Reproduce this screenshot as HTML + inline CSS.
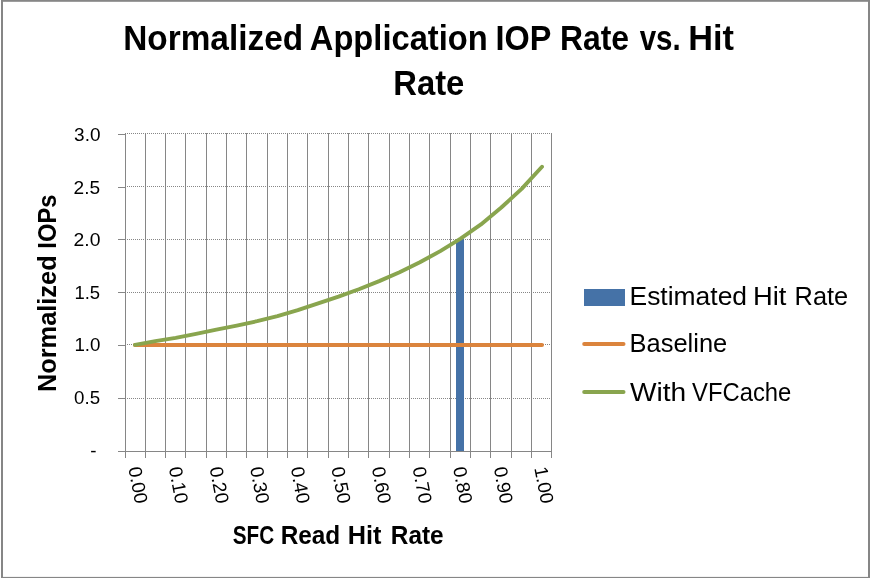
<!DOCTYPE html>
<html lang="en"><head><meta charset="utf-8"><title>Normalized Application IOP Rate vs. Hit Rate</title>
<style>html,body{margin:0;padding:0;background:#fff;}svg{display:block;}text{font-family:"Liberation Sans",sans-serif;fill:#000;}</style>
</head><body>
<svg width="870" height="578" viewBox="0 0 870 578">
<rect x="0" y="0" width="870" height="578" fill="#fff"/>
<g fill="#868686"><rect x="1" y="0" width="869" height="1.8"/><rect x="1" y="0" width="2" height="578"/><rect x="868" y="0" width="2" height="578"/><rect x="1" y="576.9" width="869" height="1.1"/></g>
<g shape-rendering="crispEdges" stroke="#868686" stroke-width="1" fill="none">
<line x1="127" y1="398.5" x2="551" y2="398.5" stroke-dasharray="1 1"/>
<line x1="127" y1="344.5" x2="551" y2="344.5" stroke-dasharray="1 1"/>
<line x1="127" y1="292.5" x2="551" y2="292.5" stroke-dasharray="1 1"/>
<line x1="127" y1="239.5" x2="551" y2="239.5" stroke-dasharray="1 1"/>
<line x1="127" y1="186.5" x2="551" y2="186.5" stroke-dasharray="1 1"/>
<line x1="127" y1="133.5" x2="551" y2="133.5" stroke-dasharray="1 1"/>
<line x1="125.5" y1="133" x2="125.5" y2="458"/>
<line x1="145.5" y1="133" x2="145.5" y2="458"/>
<line x1="165.5" y1="133" x2="165.5" y2="458"/>
<line x1="185.5" y1="133" x2="185.5" y2="458"/>
<line x1="206.5" y1="133" x2="206.5" y2="458"/>
<line x1="226.5" y1="133" x2="226.5" y2="458"/>
<line x1="246.5" y1="133" x2="246.5" y2="458"/>
<line x1="267.5" y1="133" x2="267.5" y2="458"/>
<line x1="287.5" y1="133" x2="287.5" y2="458"/>
<line x1="307.5" y1="133" x2="307.5" y2="458"/>
<line x1="328.5" y1="133" x2="328.5" y2="458"/>
<line x1="348.5" y1="133" x2="348.5" y2="458"/>
<line x1="368.5" y1="133" x2="368.5" y2="458"/>
<line x1="389.5" y1="133" x2="389.5" y2="458"/>
<line x1="409.5" y1="133" x2="409.5" y2="458"/>
<line x1="429.5" y1="133" x2="429.5" y2="458"/>
<line x1="450.5" y1="133" x2="450.5" y2="458"/>
<line x1="470.5" y1="133" x2="470.5" y2="458"/>
<line x1="490.5" y1="133" x2="490.5" y2="458"/>
<line x1="511.5" y1="133" x2="511.5" y2="458"/>
<line x1="531.5" y1="133" x2="531.5" y2="458"/>
<line x1="551.5" y1="133" x2="551.5" y2="458"/>
<line x1="118" y1="451.5" x2="552" y2="451.5"/>
<line x1="118" y1="398.5" x2="125" y2="398.5"/>
<line x1="118" y1="345.5" x2="125" y2="345.5"/>
<line x1="118" y1="292.5" x2="125" y2="292.5"/>
<line x1="118" y1="239.5" x2="125" y2="239.5"/>
<line x1="118" y1="187.5" x2="125" y2="187.5"/>
<line x1="118" y1="134.5" x2="125" y2="134.5"/>
</g>
<rect x="456" y="239" width="8" height="212" fill="#4572A7"/>
<line x1="135.00" y1="345" x2="542.00" y2="345" stroke="#DB843D" stroke-width="4" stroke-linecap="round"/>
<polyline points="135.00,344.90 155.35,341.17 175.70,337.81 196.05,333.90 216.40,329.71 236.75,325.61 257.10,321.17 277.45,316.04 297.80,310.17 318.15,303.30 338.50,296.58 358.85,289.22 379.20,281.12 399.55,272.17 419.90,262.22 440.25,251.11 460.60,238.60 480.95,224.43 501.30,207.53 521.65,188.84 542.00,166.73" fill="none" stroke="#89A54E" stroke-width="3.9" stroke-linecap="round" stroke-linejoin="round"/>
<text x="93.3" y="456.70" font-size="18.8" text-anchor="middle">-</text>
<text transform="translate(128.25,467.9) rotate(79.3)" font-size="18.8" textLength="37.2" lengthAdjust="spacingAndGlyphs">0.00</text>
<text transform="translate(168.85,467.9) rotate(79.3)" font-size="18.8" textLength="37.2" lengthAdjust="spacingAndGlyphs">0.10</text>
<text transform="translate(209.45,467.9) rotate(79.3)" font-size="18.8" textLength="37.2" lengthAdjust="spacingAndGlyphs">0.20</text>
<text transform="translate(250.05,467.9) rotate(79.3)" font-size="18.8" textLength="37.2" lengthAdjust="spacingAndGlyphs">0.30</text>
<text transform="translate(290.65,467.9) rotate(79.3)" font-size="18.8" textLength="37.2" lengthAdjust="spacingAndGlyphs">0.40</text>
<text transform="translate(331.25,467.9) rotate(79.3)" font-size="18.8" textLength="37.2" lengthAdjust="spacingAndGlyphs">0.50</text>
<text transform="translate(371.85,467.9) rotate(79.3)" font-size="18.8" textLength="37.2" lengthAdjust="spacingAndGlyphs">0.60</text>
<text transform="translate(412.45,467.9) rotate(79.3)" font-size="18.8" textLength="37.2" lengthAdjust="spacingAndGlyphs">0.70</text>
<text transform="translate(453.05,467.9) rotate(79.3)" font-size="18.8" textLength="37.2" lengthAdjust="spacingAndGlyphs">0.80</text>
<text transform="translate(493.65,467.9) rotate(79.3)" font-size="18.8" textLength="37.2" lengthAdjust="spacingAndGlyphs">0.90</text>
<text transform="translate(534.25,467.9) rotate(79.3)" font-size="18.8" textLength="37.2" lengthAdjust="spacingAndGlyphs">1.00</text>
<text y="49.70" font-size="34.6" font-weight="bold"><tspan x="123.21" textLength="179.92" lengthAdjust="spacingAndGlyphs">Normalized</tspan> <tspan x="309.79" textLength="177.99" lengthAdjust="spacingAndGlyphs">Application</tspan> <tspan x="495.60" textLength="55.25" lengthAdjust="spacingAndGlyphs">IOP</tspan> <tspan x="560.01" textLength="69.09" lengthAdjust="spacingAndGlyphs">Rate</tspan> <tspan x="639.70" textLength="41.04" lengthAdjust="spacingAndGlyphs">vs.</tspan> <tspan x="688.26" textLength="45.71" lengthAdjust="spacingAndGlyphs">Hit</tspan></text>
<text y="94.70" font-size="34.6" font-weight="bold"><tspan x="393.25" textLength="71.07" lengthAdjust="spacingAndGlyphs">Rate</tspan></text>
<text y="543.50" font-size="25" font-weight="bold"><tspan x="232.68" textLength="41.42" lengthAdjust="spacingAndGlyphs">SFC</tspan> <tspan x="280.68" textLength="59.58" lengthAdjust="spacingAndGlyphs">Read</tspan> <tspan x="347.72" textLength="33.70" lengthAdjust="spacingAndGlyphs">Hit</tspan> <tspan x="390.77" textLength="52.93" lengthAdjust="spacingAndGlyphs">Rate</tspan></text>
<text y="304.70" font-size="25.4"><tspan x="629.53" textLength="117.55" lengthAdjust="spacingAndGlyphs">Estimated</tspan> <tspan x="753.06" textLength="33.44" lengthAdjust="spacingAndGlyphs">Hit</tspan> <tspan x="794.62" textLength="53.61" lengthAdjust="spacingAndGlyphs">Rate</tspan></text>
<text y="352.40" font-size="25.4"><tspan x="629.61" textLength="97.62" lengthAdjust="spacingAndGlyphs">Baseline</tspan></text>
<text y="400.50" font-size="25.4"><tspan x="630.00" textLength="56.28" lengthAdjust="spacingAndGlyphs">With</tspan> <tspan x="692.10" textLength="99.27" lengthAdjust="spacingAndGlyphs">VFCache</tspan></text>
<text transform="translate(55.70,392) rotate(-90)" font-size="25" font-weight="bold"><tspan x="-0.09" textLength="136.71" lengthAdjust="spacingAndGlyphs">Normalized</tspan> <tspan x="143.31" textLength="54.15" lengthAdjust="spacingAndGlyphs">IOPs</tspan></text>
<text y="403.90" font-size="18.8"><tspan x="74.11" textLength="26.04" lengthAdjust="spacingAndGlyphs">0.5</tspan></text>
<text y="351.32" font-size="18.8"><tspan x="74.43" textLength="26.04" lengthAdjust="spacingAndGlyphs">1.0</tspan></text>
<text y="298.74" font-size="18.8"><tspan x="74.44" textLength="25.71" lengthAdjust="spacingAndGlyphs">1.5</tspan></text>
<text y="246.16" font-size="18.8"><tspan x="73.59" textLength="26.89" lengthAdjust="spacingAndGlyphs">2.0</tspan></text>
<text y="193.58" font-size="18.8"><tspan x="73.60" textLength="26.57" lengthAdjust="spacingAndGlyphs">2.5</tspan></text>
<text y="141.00" font-size="18.8"><tspan x="74.11" textLength="26.36" lengthAdjust="spacingAndGlyphs">3.0</tspan></text>
<rect x="584" y="289" width="41" height="17" fill="#4572A7"/>
<line x1="584.2" y1="344" x2="623.5" y2="344" stroke="#DB843D" stroke-width="4" stroke-linecap="round"/>
<line x1="584.2" y1="392" x2="623.5" y2="392" stroke="#89A54E" stroke-width="4" stroke-linecap="round"/>
</svg>
</body></html>
